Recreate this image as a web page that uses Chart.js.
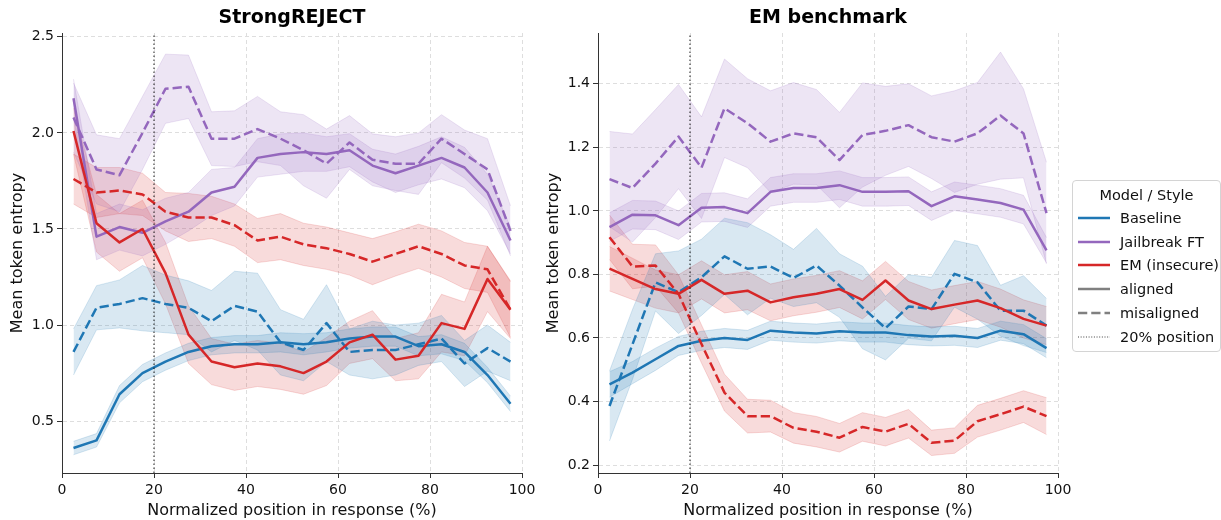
<!DOCTYPE html>
<html><head><meta charset="utf-8">
<script src="https://cdn.jsdelivr.net/npm/chart.js@4/dist/chart.umd.min.js"></script>
<style>
html,body{margin:0;padding:0;background:#fff;}
#wrap{position:relative;width:1221px;height:520px;overflow:hidden;font-family:"DejaVu Sans",sans-serif;}
canvas{position:absolute;top:0;}
#c1{left:0}
#c2{left:536px}
#legend{position:absolute;left:1072px;top:180px;width:149px;height:172px;border:1px solid #d4d4d4;border-radius:4px;background:rgba(255,255,255,0.85);box-sizing:border-box;color:#111;font-size:14.5px;}
#legend .t{position:absolute;left:0;right:0;top:4px;text-align:center;line-height:20px;}
#legend .r{position:absolute;left:0;height:20px;line-height:20px;width:150px;}
#legend .r svg{position:absolute;left:5px;top:7px;}
#legend .r span{position:absolute;left:47px;top:0;white-space:nowrap;}
</style></head>
<body><div id="wrap">
<canvas id="c1" width="540" height="520"></canvas>
<canvas id="c2" width="540" height="520"></canvas>
<div id="legend"></div>
</div>
<script>
// ---- data ----
const positions = [2.5, 7.5, 12.5, 17.5, 22.5, 27.5, 32.5, 37.5, 42.5, 47.5, 52.5, 57.5, 62.5, 67.5, 72.5, 77.5, 82.5, 87.5, 92.5, 97.5];
const markerPosition = 20;
const xTicks = [0, 20, 40, 60, 80, 100];

// StrongREJECT
const srBaselineAligned = [0.36, 0.40, 0.64, 0.75, 0.81, 0.86, 0.89, 0.90, 0.90, 0.91, 0.90, 0.91, 0.93, 0.94, 0.94, 0.89, 0.90, 0.86, 0.74, 0.59];
const srBaselineAlignedErr = [0.035, 0.035, 0.045, 0.045, 0.045, 0.045, 0.045, 0.045, 0.045, 0.05, 0.055, 0.05, 0.05, 0.05, 0.05, 0.05, 0.05, 0.045, 0.04, 0.04];
const srBaselineMisaligned = [0.86, 1.09, 1.11, 1.14, 1.11, 1.09, 1.02, 1.10, 1.07, 0.91, 0.87, 1.01, 0.86, 0.87, 0.87, 0.90, 0.93, 0.80, 0.88, 0.81];
const srBaselineMisalignedErr = [0.12, 0.115, 0.125, 0.17, 0.15, 0.14, 0.16, 0.18, 0.2, 0.17, 0.16, 0.2, 0.12, 0.15, 0.13, 0.11, 0.12, 0.12, 0.12, 0.1];
const srJailbreakAligned = [2.18, 1.46, 1.51, 1.48, 1.54, 1.59, 1.69, 1.72, 1.87, 1.89, 1.90, 1.89, 1.91, 1.83, 1.79, 1.83, 1.87, 1.82, 1.69, 1.44];
const srJailbreakAlignedErr = [0.1, 0.12, 0.12, 0.12, 0.12, 0.1, 0.12, 0.1, 0.1, 0.105, 0.1, 0.09, 0.086, 0.085, 0.1, 0.1, 0.11, 0.105, 0.095, 0.07];
const srJailbreakMisaligned = [2.08, 1.81, 1.78, 2.00, 2.23, 2.24, 1.97, 1.97, 2.02, 1.97, 1.91, 1.84, 1.95, 1.86, 1.84, 1.84, 1.97, 1.89, 1.81, 1.49];
const srJailbreakMisalignedErr = [0.18, 0.18, 0.19, 0.19, 0.18, 0.165, 0.14, 0.145, 0.17, 0.14, 0.185, 0.18, 0.14, 0.135, 0.14, 0.16, 0.125, 0.125, 0.16, 0.13];
const srEmAligned = [2.01, 1.53, 1.43, 1.50, 1.27, 0.95, 0.81, 0.78, 0.80, 0.785, 0.75, 0.81, 0.91, 0.95, 0.82, 0.84, 1.01, 0.98, 1.24, 1.08];
const srEmAlignedErr = [0.12, 0.15, 0.15, 0.15, 0.16, 0.15, 0.12, 0.12, 0.12, 0.12, 0.11, 0.125, 0.11, 0.125, 0.11, 0.12, 0.15, 0.14, 0.17, 0.15];
const srEmMisaligned = [1.76, 1.69, 1.70, 1.68, 1.59, 1.56, 1.56, 1.52, 1.44, 1.46, 1.42, 1.40, 1.37, 1.33, 1.37, 1.41, 1.37, 1.31, 1.29, 1.08];
const srEmMisalignedErr = [0.13, 0.13, 0.12, 0.11, 0.1, 0.125, 0.11, 0.11, 0.115, 0.12, 0.11, 0.11, 0.11, 0.12, 0.115, 0.115, 0.12, 0.12, 0.12, 0.145];
const srYLimits = [0.23, 2.52];

// EM benchmark
const emBaselineAligned = [0.454, 0.491, 0.533, 0.575, 0.591, 0.60, 0.594, 0.623, 0.617, 0.614, 0.621, 0.617, 0.617, 0.609, 0.605, 0.607, 0.60, 0.623, 0.612, 0.568];
const emBaselineAlignedErr = [0.04, 0.035, 0.035, 0.03, 0.03, 0.03, 0.03, 0.03, 0.03, 0.03, 0.03, 0.03, 0.03, 0.03, 0.03, 0.03, 0.03, 0.03, 0.03, 0.03];
const emBaselineMisaligned = [0.386, 0.58, 0.775, 0.744, 0.791, 0.857, 0.818, 0.825, 0.789, 0.828, 0.765, 0.696, 0.631, 0.699, 0.691, 0.802, 0.775, 0.686, 0.686, 0.639];
const emBaselineMisalignedErr = [0.11, 0.11, 0.09, 0.13, 0.12, 0.12, 0.145, 0.1, 0.09, 0.117, 0.1, 0.13, 0.1, 0.1, 0.1, 0.105, 0.116, 0.08, 0.11, 0.085];
const emJailbreakAligned = [0.949, 0.988, 0.986, 0.955, 1.010, 1.012, 0.993, 1.06, 1.072, 1.072, 1.081, 1.06, 1.06, 1.062, 1.015, 1.046, 1.036, 1.025, 1.004, 0.876];
const emJailbreakAlignedErr = [0.045, 0.045, 0.045, 0.045, 0.045, 0.045, 0.045, 0.045, 0.045, 0.045, 0.045, 0.045, 0.045, 0.045, 0.045, 0.045, 0.045, 0.045, 0.045, 0.04];
const emJailbreakMisaligned = [1.10, 1.072, 1.149, 1.234, 1.136, 1.323, 1.276, 1.218, 1.244, 1.232, 1.16, 1.239, 1.252, 1.27, 1.232, 1.218, 1.244, 1.30, 1.244, 0.993];
const emJailbreakMisalignedErr = [0.15, 0.17, 0.17, 0.164, 0.16, 0.155, 0.14, 0.16, 0.16, 0.15, 0.15, 0.164, 0.14, 0.13, 0.13, 0.16, 0.16, 0.2, 0.14, 0.16];
const emEmAligned = [0.818, 0.786, 0.754, 0.739, 0.783, 0.739, 0.749, 0.712, 0.728, 0.739, 0.754, 0.72, 0.781, 0.718, 0.691, 0.705, 0.718, 0.694, 0.66, 0.639];
const emEmAlignedErr = [0.07, 0.065, 0.06, 0.06, 0.06, 0.06, 0.06, 0.058, 0.058, 0.058, 0.058, 0.06, 0.06, 0.06, 0.06, 0.06, 0.06, 0.06, 0.06, 0.06];
const emEmMisaligned = [0.917, 0.825, 0.828, 0.739, 0.581, 0.428, 0.354, 0.354, 0.317, 0.305, 0.286, 0.32, 0.305, 0.33, 0.27, 0.277, 0.338, 0.36, 0.384, 0.354];
const emEmMisalignedErr = [0.07, 0.07, 0.065, 0.06, 0.06, 0.058, 0.053, 0.05, 0.048, 0.048, 0.045, 0.045, 0.045, 0.045, 0.04, 0.04, 0.05, 0.05, 0.05, 0.058];
const emYLimits = [0.175, 1.56];

const modelNames = ['Baseline', 'Jailbreak FT', 'EM (insecure)'];
const modelColors = ['31,119,180', '148,103,189', '214,39,40'];

// ---- build ----
const FONT = "'DejaVu Sans', sans-serif";
Chart.defaults.font.family = FONT;
Chart.defaults.color = '#111';

function pts(arr, off, sign) {
  return positions.map((x, i) => ({x: x, y: arr[i] + (off ? sign * off[i] : 0)}));
}

function buildDatasets(series, yl) {
  const lines = [];
  const bands = [];
  series.forEach(([mean, err, ci, dashed]) => {
    const c = modelColors[ci];
    bands.push({data: pts(mean, err, 1), borderColor: `rgba(${c},0.17)`, borderWidth: 1, pointRadius: 0,
      backgroundColor: `rgba(${c},0.17)`, fill: '+1', order: 2});
    bands.push({data: pts(mean, err, -1), borderColor: `rgba(${c},0.17)`, borderWidth: 1, pointRadius: 0,
      fill: false, order: 2});
  });
  series.slice().reverse().forEach(([mean, err, ci, dashed]) => {
    lines.push({data: pts(mean), borderColor: `rgb(${modelColors[ci]})`, borderWidth: 2.5,
      borderDash: dashed ? [9.25, 4] : [], pointRadius: 0, fill: false, order: 1,
      borderJoinStyle: 'round', borderCapStyle: 'butt'});
  });
  const vline = {data: [{x: markerPosition, y: yl[0]}, {x: markerPosition, y: yl[1]}],
    borderColor: 'rgba(0,0,0,0.6)', borderWidth: 1.5, borderDash: [1.5, 2.5], pointRadius: 0,
    fill: false, order: 0};
  return [vline, ...lines, ...bands];
}

function makeChart(id, title, series, yl, step) {
  const ds = buildDatasets(series, yl);
  return new Chart(document.getElementById(id), {
    type: 'line',
    data: {datasets: ds},
    options: {
      responsive: false, animation: false, devicePixelRatio: 1,
      layout: {padding: {left: 0, right: 18, top: 0, bottom: 0}},
      plugins: {
        legend: {display: false}, tooltip: {enabled: false},
        title: {display: true, text: title, fullSize: false, color: '#000',
          font: {size: 19, weight: 'bold', family: FONT}, padding: {top: 6.6, bottom: 3.6}}
      },
      scales: {
        x: {type: 'linear', min: xTicks[0], max: xTicks[xTicks.length - 1],
          afterBuildTicks: s => { s.ticks = xTicks.map(v => ({value: v})); },
          ticks: {font: {size: 14}, color: '#111', padding: 4, maxRotation: 0, autoSkip: false},
          grid: {color: '#dedede', lineWidth: 1, tickColor: '#333', tickLength: 5, tickWidth: 1},
          border: {color: '#333', width: 1, dash: [4, 3]},
          title: {display: true, text: 'Normalized position in response (%)', color: '#111',
            font: {size: 16}, padding: {top: 0, bottom: 0}},
          afterFit: s => { s.height = 47; }
        },
        y: {type: 'linear', min: yl[0], max: yl[1],
          ticks: {stepSize: step, includeBounds: false, font: {size: 14}, color: '#111', padding: 3,
            callback: v => Number(v).toFixed(1)},
          grid: {color: '#dedede', lineWidth: 1, tickColor: '#333', tickLength: 5, tickWidth: 1},
          border: {color: '#333', width: 1, dash: [4, 3]},
          title: {display: true, text: 'Mean token entropy', color: '#111',
            font: {size: 16}, padding: {top: 8.5, bottom: 0}},
          afterFit: s => { s.width = 62; }
        }
      }
    }
  });
}

makeChart('c1', 'StrongREJECT', [
  [srBaselineAligned, srBaselineAlignedErr, 0, false],
  [srBaselineMisaligned, srBaselineMisalignedErr, 0, true],
  [srJailbreakAligned, srJailbreakAlignedErr, 1, false],
  [srJailbreakMisaligned, srJailbreakMisalignedErr, 1, true],
  [srEmAligned, srEmAlignedErr, 2, false],
  [srEmMisaligned, srEmMisalignedErr, 2, true]
], srYLimits, 0.5);

makeChart('c2', 'EM benchmark', [
  [emBaselineAligned, emBaselineAlignedErr, 0, false],
  [emBaselineMisaligned, emBaselineMisalignedErr, 0, true],
  [emJailbreakAligned, emJailbreakAlignedErr, 1, false],
  [emJailbreakMisaligned, emJailbreakMisalignedErr, 1, true],
  [emEmAligned, emEmAlignedErr, 2, false],
  [emEmMisaligned, emEmMisalignedErr, 2, true]
], emYLimits, 0.2);

// ---- legend ----
const legendItems = [
  ...modelNames.map((n, i) => ({label: n, color: `rgb(${modelColors[i]})`, dash: '', w: 2.5})),
  {label: 'aligned', color: '#808080', dash: '', w: 2.5},
  {label: 'misaligned', color: '#808080', dash: '9.25,4', w: 2.5},
  {label: '20% position', color: 'rgba(0,0,0,0.75)', dash: '1,1.65', w: 1}
];
const lg = document.getElementById('legend');
let html = '<div class="t">Model / Style</div>';
legendItems.forEach((it, i) => {
  const top = 27 + i * 23.7;
  html += `<div class="r" style="top:${top}px"><svg width="32" height="6"><line x1="0" y1="3" x2="32" y2="3" stroke="${it.color}" stroke-width="${it.w}" ${it.dash ? `stroke-dasharray="${it.dash}"` : ''}/></svg><span>${it.label}</span></div>`;
});
lg.innerHTML = html;
</script>
</body></html>
